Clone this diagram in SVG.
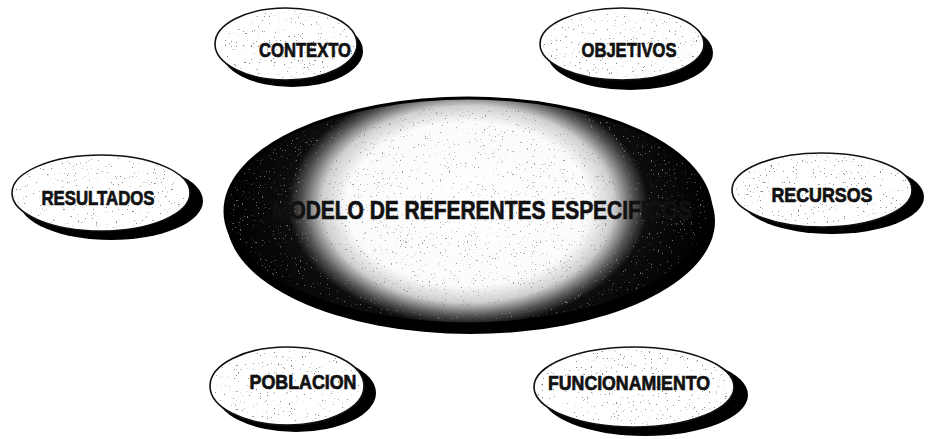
<svg xmlns="http://www.w3.org/2000/svg" width="929" height="439" viewBox="0 0 929 439">
  <style>
    .shadow { fill: #000; }
    .oval { fill: #ffffff; stroke: #111; stroke-width: 1.6; }
    .speck { fill: #000; }
    .lbl { font-family: "Liberation Sans", Arial, sans-serif; font-weight: 700; font-size: 20px; fill: #111; stroke: #111; stroke-width: 0.7; text-anchor: middle; }
    .main { font-family: "Liberation Sans", Arial, sans-serif; font-weight: 700; font-size: 25px; fill: #111; stroke: #111; stroke-width: 0.7; text-anchor: middle; }
  </style>
  <defs>
    <radialGradient id="centerGrad" cx="0.5" cy="0.47" r="0.5" gradientTransform="translate(0.5,0.47) scale(1,1.45) translate(-0.5,-0.47)">
      <stop offset="0" stop-color="#ffffff"/>
      <stop offset="0.5" stop-color="#fbfbfb"/>
      <stop offset="0.6" stop-color="#cfcfcf"/>
      <stop offset="0.68" stop-color="#555555"/>
      <stop offset="0.74" stop-color="#0d0d0d"/>
      <stop offset="1" stop-color="#000000"/>
    </radialGradient>
    <filter id="speck" x="0" y="0" width="1" height="1">
      <feTurbulence type="fractalNoise" baseFrequency="0.55" numOctaves="2" seed="7" result="n"/>
      <feColorMatrix in="n" type="matrix" values="0 0 0 0 0.25  0 0 0 0 0.25  0 0 0 0 0.25  16 0 0 0 -11.2" result="d"/>
      <feComposite in="d" in2="SourceGraphic" operator="in"/>
    </filter>
  </defs>
  <rect width="929" height="439" fill="#ffffff"/>

  <g id="center">
    <ellipse class="shadow" cx="471" cy="221" rx="244" ry="113"/>
    <ellipse cx="468" cy="211" rx="243" ry="113" fill="url(#centerGrad)" stroke="#000" stroke-width="3"/>
    <ellipse class="speck" cx="468" cy="211" rx="240" ry="110" filter="url(#speck)" opacity="0.8"/>
    <text class="main" x="482" y="219" textLength="420" lengthAdjust="spacingAndGlyphs">MODELO DE REFERENTES ESPECIFICOS</text>
  </g>

  <g id="contexto">
    <ellipse class="shadow" cx="292" cy="51" rx="71" ry="36"/>
    <ellipse class="oval" cx="286" cy="44" rx="71" ry="36"/>
    <ellipse class="speck" cx="286" cy="44" rx="69" ry="34" filter="url(#speck)"/>
    <text class="lbl" x="305" y="57" textLength="92" lengthAdjust="spacingAndGlyphs">CONTEXTO</text>
  </g>

  <g id="objetivos">
    <ellipse class="shadow" cx="630" cy="53" rx="83" ry="37"/>
    <ellipse class="oval" cx="622" cy="44" rx="82" ry="36"/>
    <ellipse class="speck" cx="622" cy="44" rx="80" ry="34" filter="url(#speck)"/>
    <text class="lbl" x="629" y="57" textLength="95" lengthAdjust="spacingAndGlyphs">OBJETIVOS</text>
  </g>

  <g id="resultados">
    <ellipse class="shadow" cx="111" cy="201" rx="92" ry="39"/>
    <ellipse class="oval" cx="101" cy="193" rx="89" ry="38"/>
    <ellipse class="speck" cx="101" cy="193" rx="87" ry="36" filter="url(#speck)"/>
    <text class="lbl" x="98" y="205" textLength="113" lengthAdjust="spacingAndGlyphs">RESULTADOS</text>
  </g>

  <g id="recursos">
    <ellipse class="shadow" cx="832" cy="197" rx="92" ry="37"/>
    <ellipse class="oval" cx="822" cy="190" rx="90" ry="37"/>
    <ellipse class="speck" cx="822" cy="190" rx="88" ry="35" filter="url(#speck)"/>
    <text class="lbl" x="822" y="202" textLength="101" lengthAdjust="spacingAndGlyphs">RECURSOS</text>
  </g>

  <g id="poblacion">
    <ellipse class="shadow" cx="296" cy="393" rx="80" ry="39"/>
    <ellipse class="oval" cx="287" cy="386" rx="77" ry="39"/>
    <ellipse class="speck" cx="287" cy="386" rx="75" ry="37" filter="url(#speck)"/>
    <text class="lbl" x="303" y="389" textLength="107" lengthAdjust="spacingAndGlyphs">POBLACION</text>
  </g>

  <g id="funcionamiento">
    <ellipse class="shadow" cx="645" cy="395" rx="103" ry="41"/>
    <ellipse class="oval" cx="634" cy="387" rx="100" ry="40"/>
    <ellipse class="speck" cx="634" cy="387" rx="98" ry="38" filter="url(#speck)"/>
    <text class="lbl" x="629" y="390" textLength="162" lengthAdjust="spacingAndGlyphs">FUNCIONAMIENTO</text>
  </g>
</svg>
